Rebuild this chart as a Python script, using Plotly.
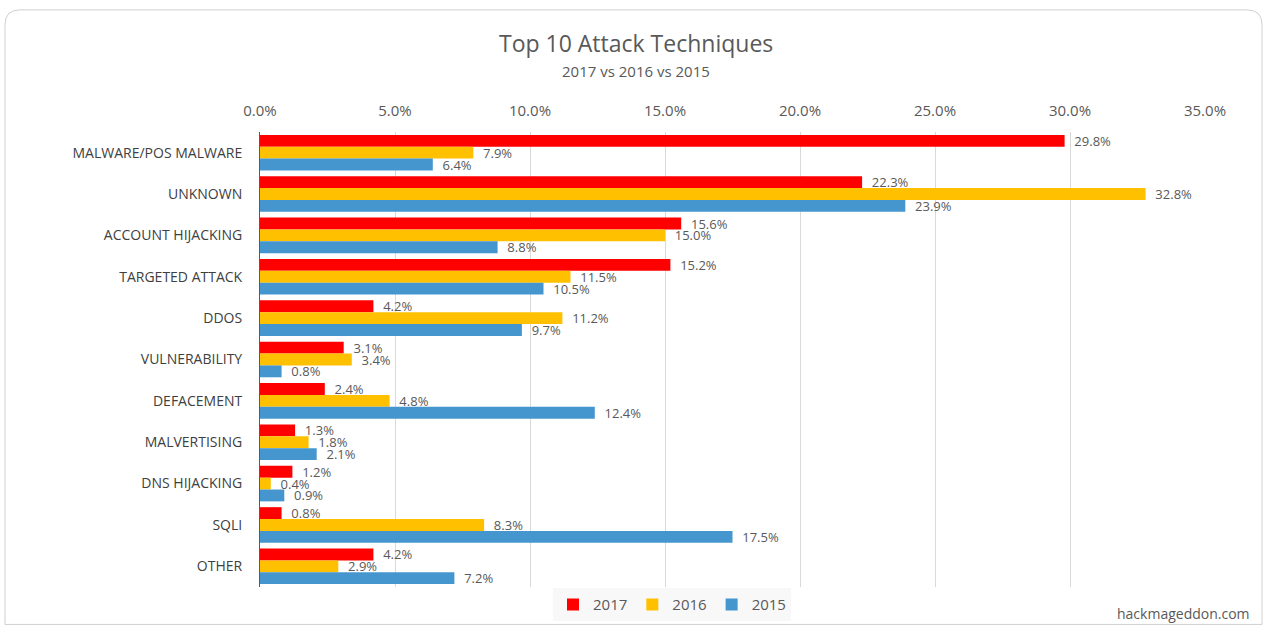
import plotly.graph_objects as go

categories = ["MALWARE/POS MALWARE", "UNKNOWN", "ACCOUNT HIJACKING", "TARGETED ATTACK",
              "DDOS", "VULNERABILITY", "DEFACEMENT", "MALVERTISING", "DNS HIJACKING",
              "SQLI", "OTHER"]
v2017 = [29.8, 22.3, 15.6, 15.2, 4.2, 3.1, 2.4, 1.3, 1.2, 0.8, 4.2]
v2016 = [7.9, 32.8, 15.0, 11.5, 11.2, 3.4, 4.8, 1.8, 0.4, 8.3, 2.9]
v2015 = [6.4, 23.9, 8.8, 10.5, 9.7, 0.8, 12.4, 2.1, 0.9, 17.5, 7.2]
series = [("2017", v2017, "#FF0000"), ("2016", v2016, "#FFC000"), ("2015", v2015, "#4596CE")]
xticks = [0, 5, 10, 15, 20, 25, 30, 35]

FONT = "Open Sans"
GRAY = "#595959"

fig = go.Figure()
for name, vals, color in series:
    fig.add_trace(go.Bar(
        y=categories, x=vals, name=name, orientation="h",
        marker=dict(color=color, line=dict(width=0)),
        text=[f"\u00a0\u00a0{v:.1f}%" for v in vals], textposition="outside",
        textfont=dict(family=FONT, size=13, color=GRAY),
        constraintext="none", cliponaxis=False,
    ))

H = 633 - 132 - 39
W = 1266 - 260 - 61
def px(x): return (x - 260) / W
def py(y): return (633 - 39 - y) / H

fig.update_layout(
    width=1266, height=633,
    paper_bgcolor="white", plot_bgcolor="white",
    barmode="group", bargap=0.14, bargroupgap=0,
    margin=dict(l=260, r=61, t=132, b=39),
    font=dict(family=FONT, color=GRAY),
    showlegend=True,
    legend=dict(orientation="h", x=px(672), xanchor="center", y=py(612), yanchor="middle",
                font=dict(family=FONT, size=15, color=GRAY), bgcolor="#f8f8f8",
                itemwidth=30, traceorder="normal"),
    xaxis=dict(side="top", range=[0, 35], tickvals=xticks,
               ticktext=[f"{t:.1f}%" for t in xticks],
               showgrid=True, gridcolor="#d9d9d9", gridwidth=1, zeroline=False,
               ticklabelstandoff=12,
               tickfont=dict(family=FONT, size=15, color=GRAY), ticks="", showline=False),
    yaxis=dict(autorange="reversed", showline=True, linecolor="#595959", linewidth=1,
               ticks="", ticklabelstandoff=14,
               tickfont=dict(family=FONT, size=14, color="#404040")),
    annotations=[
        dict(text="Top 10 Attack Techniques", x=px(636), y=py(42), xref="paper", yref="paper",
             showarrow=False, font=dict(family=FONT, size=23, color=GRAY), xanchor="center", yanchor="middle"),
        dict(text="2017 vs 2016 vs 2015", x=px(636), y=py(70), xref="paper", yref="paper",
             showarrow=False, font=dict(family=FONT, size=15, color=GRAY), xanchor="center", yanchor="middle"),
        dict(text="hackmageddon.com", x=px(1252), y=py(621), xref="paper", yref="paper",
             showarrow=False, font=dict(family=FONT, size=14, color=GRAY), xanchor="right", yanchor="middle"),
    ],
)

fig.add_shape(type="path", xref="paper", yref="paper",
              path=f"M {px(20)},{py(8)} L {px(1247)},{py(8)} Q {px(1262)},{py(8)} {px(1262)},{py(23)} "
                   f"L {px(1262)},{py(632)} L {px(5)},{py(632)} L {px(5)},{py(23)} Q {px(5)},{py(8)} {px(20)},{py(8)} Z",
              line=dict(color="#d0d0d0", width=1), layer="below")

fig.write_html("out.html", config={"displayModeBar": False},
               post_script="document.body.style.margin='0';document.body.style.padding='0';")
